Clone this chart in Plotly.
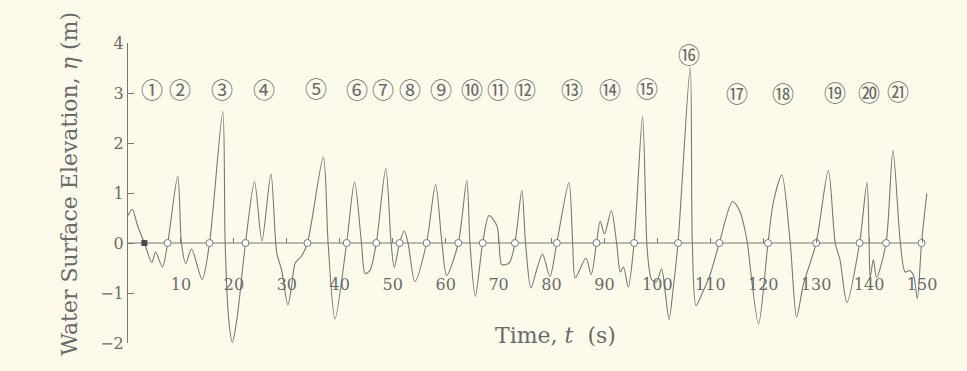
import plotly.graph_objects as go

# Surface elevation record: knot points (time in s, elevation in m)
t_knots = [0.0, 0.8, 1.8, 3.1, 4.5, 5.2, 6.5, 7.5, 9.4, 10.1, 10.9, 12.0, 14.0, 15.4,
           17.9, 18.35, 19.0, 19.7, 20.6, 22.2, 23.9, 25.3, 27.0, 28.1, 29.0, 30.2,
           30.9, 31.6, 32.8, 33.9, 36.9, 37.8, 39.1, 41.3, 42.8, 44.1, 44.8, 45.7,
           46.9, 48.7, 49.7, 50.3, 51.3, 52.2, 52.9, 54.2, 56.4, 58.1, 59.3, 60.2,
           62.4, 64.0, 64.6, 65.6, 67.0, 68.2, 69.7, 70.1, 70.6, 72.0, 73.1, 74.4,
           75.1, 76.1, 77.3, 78.3, 79.7, 81.0, 83.3, 84.0, 84.5, 86.5, 87.5, 88.5,
           89.2, 90.0, 91.3, 92.3, 93.0, 93.6, 94.5, 95.6, 97.2, 98.0, 98.5, 98.9,
           99.8, 100.8, 101.5, 102.2, 103.0, 103.9, 106.2, 106.6, 107.3, 108.5,
           110.0, 111.7, 114.2, 115.6, 116.6, 117.0, 119.1, 120.9, 121.9, 123.5,
           125.1, 126.3, 127.6, 130.0, 132.3, 133.6, 134.5, 135.8, 138.2, 139.6,
           140.0, 140.2, 140.8, 141.4, 143.2, 144.5, 145.9, 146.8, 147.6, 148.4,
           149.1, 149.9, 150.9]
eta_knots = [0.55, 0.67, 0.35, 0.0, -0.39, -0.18, -0.48, 0.0, 1.34, 0.0, -0.41, -0.12,
             -0.73, 0.0, 2.63, 0.0, -1.5, -1.99, -1.5, 0.0, 1.22, 0.04, 1.38, -0.2,
             -0.53, -1.24, -0.87, -0.40, -0.26, 0.0, 1.72, 0.0, -1.52, 0.0, 1.22, 0.0,
             -0.61, -0.55, 0.0, 1.49, 0.0, -0.49, 0.0, 0.24, 0.0, -0.77, 0.0, 1.17,
             0.0, -0.65, 0.0, 1.25, 0.0, -1.07, 0.0, 0.55, 0.34, 0.0, -0.43, -0.40,
             0.0, 1.05, 0.0, -0.9, -0.5, -0.22, -0.67, 0.0, 1.21, 0.0, -0.70, -0.30,
             -0.63, 0.0, 0.44, 0.18, 0.65, 0.0, -0.58, -0.48, -0.88, 0.0, 2.53, 0.0,
             -0.55, -0.73, -0.78, -0.52, -1.0, -1.53, -0.9, 0.0, 3.51, 0.0, -1.25,
             -1.0, -0.62, 0.0, 0.83, 0.63, 0.23, 0.0, -1.62, 0.0, 0.81, 1.36, 0.0,
             -1.48, -0.82, 0.0, 1.45, 0.0, -0.34, -1.19, 0.0, 1.21, 0.0, -0.69, -0.33,
             -0.69, 0.0, 1.85, 0.0, -0.58, -0.55, -0.65, -1.11, 0.0, 0.99]

# Start of the record and zero-upcrossing times
t_start = [3.1]
t_upcross = [7.5, 15.4, 22.2, 33.9, 41.3, 46.9, 51.3, 56.4, 62.4, 67.0, 73.1, 81.0,
             88.5, 95.6, 103.9, 111.7, 120.9, 130.0, 138.2, 143.2, 149.9]

# Individual wave numbers and where they are written
wave_labels = ["①", "②", "③", "④", "⑤", "⑥", "⑦", "⑧", "⑨", "⑩", "⑪", "⑫", "⑬",
               "⑭", "⑮", "⑯", "⑰", "⑱", "⑲", "⑳", "㉑"]
wave_label_t = [4.5, 9.8, 17.8, 25.6, 35.5, 43.3, 48.2, 53.3, 59.1, 65.0, 69.9, 75.0,
                83.9, 91.1, 98.1, 106.0, 115.1, 123.8, 133.6, 140.0, 145.5]
wave_label_eta = [3.1, 3.1, 3.1, 3.1, 3.12, 3.1, 3.1, 3.1, 3.1, 3.1, 3.1, 3.1,
                  3.1, 3.1, 3.12, 3.8, 3.03, 3.03, 3.05, 3.05, 3.07]

x_ticks = [10, 20, 30, 40, 50, 60, 70, 80, 90, 100, 110, 120, 130, 140, 150]
y_ticks = [-2, -1, 0, 1, 2, 3, 4]
y_tick_text = ["−2", "−1", "0", "1", "2", "3", "4"]

INK = "#6a6a6a"
LINE = "#787878"
BG = "#fcfbeb"

fig = go.Figure()

# zero reference line
fig.add_shape(type="line", x0=0, x1=150, y0=0, y1=0, xref="x", yref="y",
              line=dict(color=LINE, width=1), layer="below")

fig.add_trace(go.Scatter(
    x=t_knots, y=eta_knots, mode="lines",
    line=dict(color=LINE, width=1.1, shape="spline", smoothing=0.8),
    hoverinfo="skip", showlegend=False))

fig.add_trace(go.Scatter(
    x=t_start, y=[0] * len(t_start), mode="markers",
    marker=dict(symbol="square", size=6, color="#4a4a4a"),
    showlegend=False))

fig.add_trace(go.Scatter(
    x=t_upcross, y=[0] * len(t_upcross), mode="markers",
    marker=dict(symbol="circle", size=7, color="white",
                line=dict(color=LINE, width=1)),
    showlegend=False))

for lab, tx, ty in zip(wave_labels, wave_label_t, wave_label_eta):
    fig.add_annotation(x=tx, y=ty, xref="x", yref="y", text=lab, showarrow=False,
                       font=dict(family="Noto Sans CJK JP", size=22, color=INK))

fig.add_annotation(x=80.7, y=-1.85, xref="x", yref="y",
                   text="Time,\u00a0<i>t</i>\u00a0\u00a0(s)", showarrow=False,
                   font=dict(family="DejaVu Serif", size=22, color=INK))

fig.add_annotation(x=-0.092, y=0.53, xref="paper", yref="paper", textangle=-90,
                   text="Water Surface Elevation,\u00a0<i>η</i>\u00a0(m)",
                   showarrow=False,
                   font=dict(family="DejaVu Serif", size=22, color=INK))

fig.update_layout(
    width=967, height=371,
    margin=dict(l=128, r=37, t=43, b=28),
    paper_bgcolor=BG, plot_bgcolor=BG,
    showlegend=False,
    xaxis=dict(range=[0, 151.5], anchor="free", position=1 / 3,
               showline=False, showgrid=False, zeroline=False,
               tickmode="array", tickvals=x_ticks,
               ticks="inside", ticklen=5, tickcolor=LINE, tickwidth=1,
               ticklabelstandoff=30,
               tickfont=dict(family="DejaVu Serif", size=16, color=INK)),
    yaxis=dict(range=[-2, 4], showline=True, linecolor=LINE, linewidth=1,
               showgrid=False, zeroline=False,
               tickmode="array", tickvals=y_ticks, ticktext=y_tick_text,
               ticks="inside", ticklen=6, tickcolor=LINE, tickwidth=1,
               tickfont=dict(family="DejaVu Serif", size=16, color=INK)),
)

fig.write_html("out.html")
